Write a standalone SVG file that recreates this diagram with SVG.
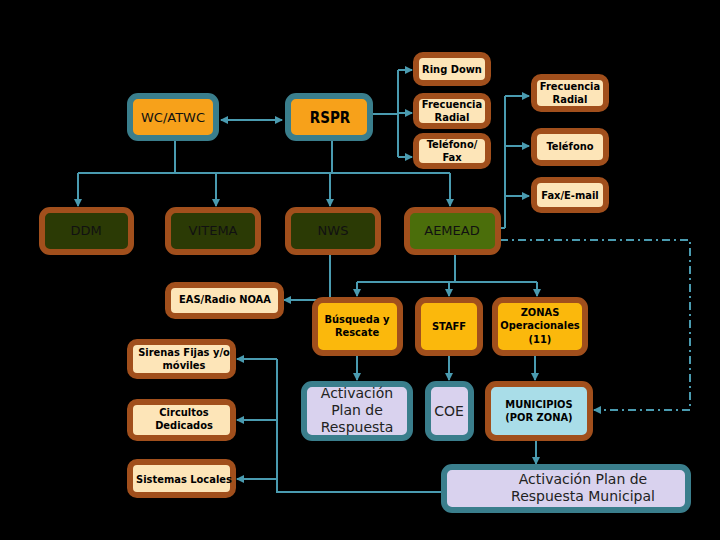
<svg xmlns="http://www.w3.org/2000/svg" width="720" height="540" viewBox="0 0 720 540">
<defs>
<marker id="ah" markerWidth="8" markerHeight="8" refX="7" refY="4" orient="auto-start-reverse" markerUnits="userSpaceOnUse"><path d="M0,0 L8,4 L0,8 z" fill="#4a9bb0"/></marker>
<style>
.c{fill:none;stroke:#4a9bb0;stroke-width:2}
.a{marker-end:url(#ah)}
.or{fill:#f7a11a;stroke:#3a7e8c;stroke-width:6}
.dg{fill:#2b3a05;stroke:#a14f1c;stroke-width:6}
.lg{fill:#4b6e0b;stroke:#a14f1c;stroke-width:6}
.cr{fill:#fde5b8;stroke:#a14f1c;stroke-width:6}
.ye{fill:#fbb80c;stroke:#a14f1c;stroke-width:6}
.lv{fill:#d9d2ee;stroke:#3a7e8c;stroke-width:6}
.lb{fill:#a9dde8;stroke:#a14f1c;stroke-width:6}
text{font-family:"DejaVu Sans",sans-serif;text-anchor:middle}
.b{font-family:"DejaVu Sans Condensed","DejaVu Sans",sans-serif;font-weight:bold;font-size:11px;fill:#000}
.n{font-size:13px;fill:#111}
.m{font-size:14px;fill:#222}
</style>
</defs>
<rect width="720" height="540" fill="#000"/>
<g id="connectors">
<path class="c a" d="M221,120 H282" marker-start="url(#ah)"/>
<path class="c" d="M175,140 V173 M332,140 V173 M78,173 H450"/>
<path class="c a" d="M78,173 V206"/>
<path class="c a" d="M216,173 V206"/>
<path class="c a" d="M330,173 V206"/>
<path class="c a" d="M450,173 V206"/>
<path class="c" d="M372,114 H398 M398,70 V157"/>
<path class="c a" d="M398,70 H412"/>
<path class="c a" d="M398,113 H412"/>
<path class="c a" d="M398,157 H412"/>
<path class="c" d="M500,228 H505 M505,96 V228"/>
<path class="c a" d="M505,96 H529"/>
<path class="c a" d="M505,146 H529"/>
<path class="c a" d="M505,196 H529"/>
<path class="c a" d="M500,240 H690 V410 H594" stroke-dasharray="8,4,2,4"/>
<path class="c a" d="M330,254 V300 H284"/>
<path class="c" d="M455,254 V282 M357,282 H537"/>
<path class="c a" d="M357,282 V296"/>
<path class="c a" d="M449,282 V296"/>
<path class="c a" d="M537,282 V296"/>
<path class="c a" d="M357,355 V380"/>
<path class="c a" d="M449,355 V380"/>
<path class="c a" d="M535,355 V380"/>
<path class="c a" d="M536,440 V464"/>
<path class="c" d="M442,492 H277 V359"/>
<path class="c a" d="M277,359 H237"/>
<path class="c a" d="M277,420 H237"/>
<path class="c a" d="M277,479 H237"/>
</g>
<g id="wcatwc"><rect class="or" x="130" y="96" width="86" height="42" rx="8"/><text class="n" x="173" y="122">WC/ATWC</text></g>
<g id="rspr"><rect class="or" x="288" y="96" width="82" height="42" rx="8"/><text x="330" y="123" style="font-family:'DejaVu Sans Condensed','DejaVu Sans',sans-serif;font-weight:bold;font-size:15px">RSPR</text></g>
<g id="ringdown"><rect class="cr" x="416" y="55" width="72" height="28" rx="7"/><text class="b" x="452" y="73">Ring Down</text></g>
<g id="frec1"><rect class="cr" x="416" y="96" width="72" height="30" rx="7"/><text class="b" x="452" y="108">Frecuencia</text><text class="b" x="452" y="121">Radial</text></g>
<g id="telfax"><rect class="cr" x="416" y="136" width="72" height="30" rx="7"/><text class="b" x="452" y="148">Teléfono/</text><text class="b" x="452" y="161">Fax</text></g>
<g id="frec2"><rect class="cr" x="534" y="77" width="72" height="32" rx="7"/><text class="b" x="570" y="90">Frecuencia</text><text class="b" x="570" y="103">Radial</text></g>
<g id="tel"><rect class="cr" x="534" y="131" width="72" height="32" rx="7"/><text class="b" x="570" y="150">Teléfono</text></g>
<g id="faxmail"><rect class="cr" x="534" y="180" width="72" height="30" rx="7"/><text class="b" x="570" y="199">Fax/E-mail</text></g>
<g id="ddm"><rect class="dg" x="42" y="210" width="89" height="42" rx="8"/><text class="n" x="86" y="235">DDM</text></g>
<g id="vitema"><rect class="dg" x="168" y="210" width="90" height="42" rx="8"/><text class="n" x="213" y="235">VITEMA</text></g>
<g id="nws"><rect class="dg" x="288" y="210" width="90" height="42" rx="8"/><text class="n" x="333" y="235">NWS</text></g>
<g id="aemead"><rect class="lg" x="407" y="210" width="91" height="42" rx="8"/><text class="n" x="452" y="235">AEMEAD</text></g>
<g id="eas"><rect class="cr" x="168" y="285" width="113" height="31" rx="7"/><text class="b" x="225" y="303">EAS/Radio NOAA</text></g>
<g id="busqueda"><rect class="ye" x="315" y="300" width="85" height="53" rx="8"/><text class="b" x="357" y="323">Búsqueda y</text><text class="b" x="357" y="336">Rescate</text></g>
<g id="staff"><rect class="ye" x="418" y="300" width="62" height="53" rx="8"/><text class="b" x="449" y="330">STAFF</text></g>
<g id="zonas"><rect class="ye" x="495" y="300" width="90" height="53" rx="8"/><text class="b" x="540" y="316">ZONAS</text><text class="b" x="540" y="329">Operacionales</text><text class="b" x="540" y="343">(11)</text></g>
<g id="activacion"><rect class="lv" x="304" y="384" width="106" height="54" rx="8"/><text class="m" x="357" y="398">Activación</text><text class="m" x="357" y="415">Plan de</text><text class="m" x="357" y="432">Respuesta</text></g>
<g id="coe"><rect class="lv" x="428" y="384" width="43" height="54" rx="8"/><text class="m" x="449" y="416">COE</text></g>
<g id="municipios"><rect class="lb" x="488" y="384" width="102" height="54" rx="8"/><text class="b" x="539" y="408">MUNICIPIOS</text><text class="b" x="539" y="421">(POR ZONA)</text></g>
<g id="actmun"><rect class="lv" x="444" y="467" width="244" height="43" rx="8"/><text class="m" x="583" y="484">Activación Plan de</text><text class="m" x="583" y="501">Respuesta  Municipal</text></g>
<g id="sirenas"><rect class="cr" x="130" y="342" width="103" height="34" rx="7"/><text class="b" x="184" y="356">Sirenas Fijas y/o</text><text class="b" x="184" y="369">móviles</text></g>
<g id="circuitos"><rect class="cr" x="130" y="402" width="103" height="36" rx="7"/><text class="b" x="184" y="416">Circultos</text><text class="b" x="184" y="429">Dedicados</text></g>
<g id="sistemas"><rect class="cr" x="130" y="462" width="103" height="33" rx="7"/><text class="b" x="184" y="483">Sistemas Locales</text></g>
</svg>
